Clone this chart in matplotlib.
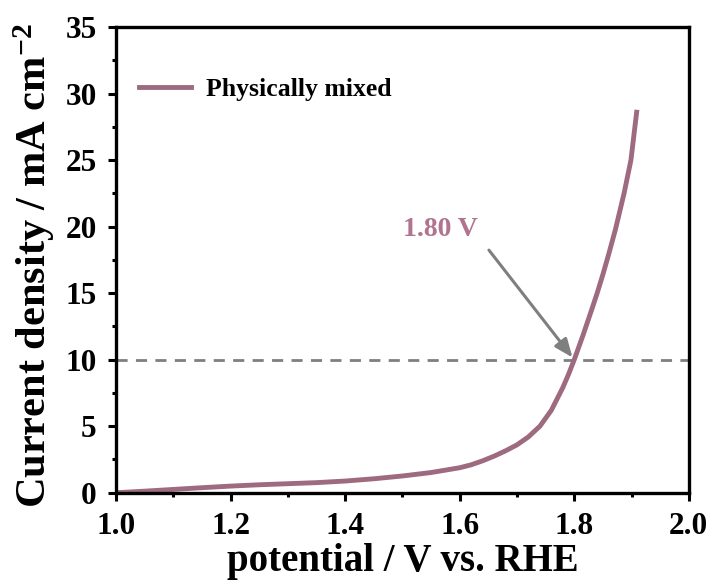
import matplotlib
matplotlib.use("Agg")
import matplotlib.pyplot as plt
from matplotlib.ticker import MultipleLocator

# LSV curve
potential = [1.00, 1.05, 1.10, 1.15, 1.20, 1.25, 1.30, 1.35, 1.40, 1.45, 1.50,
             1.55, 1.60, 1.62, 1.64, 1.66, 1.68, 1.70, 1.72, 1.74, 1.76, 1.78,
             1.79, 1.80, 1.815, 1.83, 1.84, 1.85, 1.86, 1.872, 1.887, 1.899,
             1.909]
current = [0.0, 0.12, 0.25, 0.38, 0.50, 0.60, 0.68, 0.76, 0.88, 1.05, 1.26,
           1.52, 1.88, 2.10, 2.40, 2.75, 3.15, 3.60, 4.20, 5.00, 6.20, 7.90,
           8.90, 10.0, 11.8, 13.7, 15.0, 16.4, 17.9, 19.8, 22.5, 25.0, 28.6]

label = "Physically mixed"
ref_current = 10
onset_label = "1.80 V"
onset_v = 1.80

line_color = "#9e6a7f"
text_color = "#b07390"

plt.rcParams['font.family'] = ['Liberation Serif', 'DejaVu Serif']
plt.rcParams['font.weight'] = 'bold'
plt.rcParams['mathtext.fontset'] = 'custom'
plt.rcParams['mathtext.rm'] = 'Liberation Serif:bold'
plt.rcParams['mathtext.default'] = 'rm'

fig = plt.figure(figsize=(7.13, 5.88), dpi=100)
ax = fig.add_axes([0.163, 0.162, 0.803, 0.792])

ax.plot(potential, current, color=line_color, linewidth=3.5, label=label)
ax.axhline(ref_current, color="#7f7f7f", linewidth=2, linestyle=(0, (4, 3)), zorder=1)

ax.annotate("", xy=(onset_v, ref_current), xytext=(1.648, 18.4),
            arrowprops=dict(arrowstyle="-|>,head_length=1.1,head_width=0.45",
                            color="#7f7f7f", lw=2.2))
ax.text(1.566, 19.8, onset_label, color=text_color, fontsize=20,
        fontweight='bold', ha='center', va='center')

ax.set_xlim(1.0, 2.0)
ax.set_ylim(0, 35)
ax.xaxis.set_major_locator(MultipleLocator(0.2))
ax.xaxis.set_minor_locator(MultipleLocator(0.1))
ax.yaxis.set_major_locator(MultipleLocator(5))
ax.yaxis.set_minor_locator(MultipleLocator(2.5))
ax.xaxis.set_major_formatter(plt.FormatStrFormatter('%.1f'))

for sp in ax.spines.values():
    sp.set_linewidth(2.4)
ax.tick_params(which='major', direction='out', length=6, width=2.2,
               labelsize=22.5, pad=8)
ax.tick_params(which='minor', direction='out', length=3, width=2.2)
for lab in ax.get_xticklabels() + ax.get_yticklabels():
    lab.set_fontweight('bold')

ax.set_xlabel("potential / V vs. RHE", fontsize=28, fontweight='bold', labelpad=1)
ax.set_ylabel("Current density / mA cm$^{-2}$", fontsize=30.5, fontweight='bold')
ax.yaxis.set_label_coords(-0.104, 0.487)

ax.legend(loc='upper left', frameon=False,
          prop={'weight': 'bold', 'size': 18.5}, handlelength=2.0,
          handletextpad=0.6, bbox_to_anchor=(0.0, 0.94))

fig.savefig("out.png", dpi=100)
